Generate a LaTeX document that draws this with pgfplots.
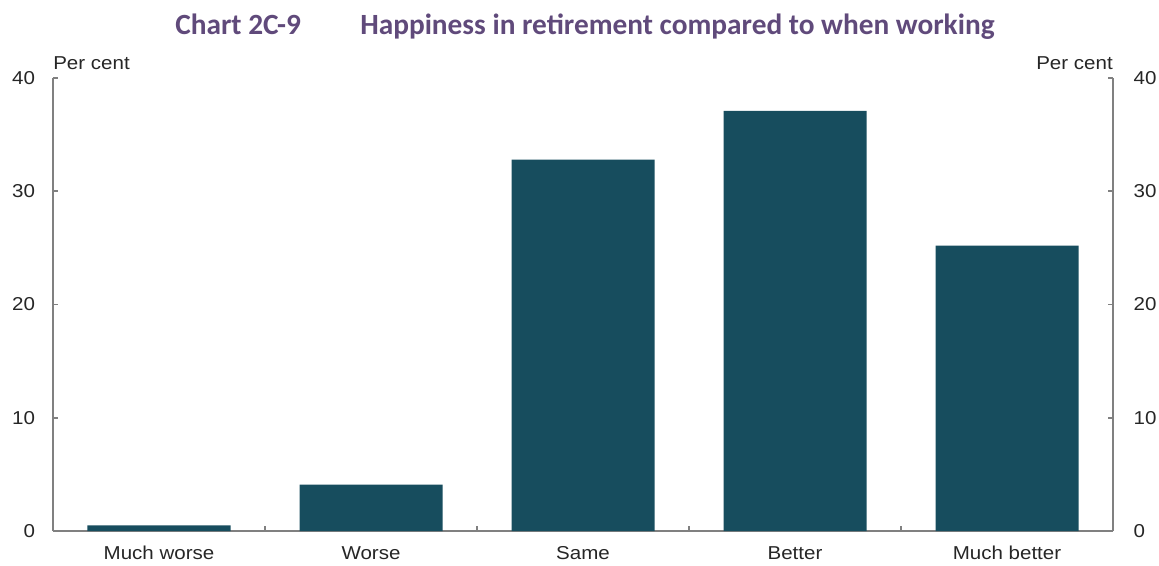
\documentclass[border=0pt]{standalone}
\usepackage{pgfplots}
\pgfplotsset{compat=1.18}
\usepackage{fontspec}
\setmainfont[FakeStretch=1.1]{Liberation Sans}
\newfontfamily\titlefont{Carlito}
\definecolor{barcol}{RGB}{23,77,94}
\definecolor{axcol}{RGB}{128,128,128}
\definecolor{titlecol}{RGB}{96,74,123}
\begin{document}
\begin{tikzpicture}
\useasboundingbox (0,0) rectangle (869.25pt,423.75pt);
\node[anchor=base west,inner sep=0pt,text=titlecol,font=\titlefont\bfseries\fontsize{22pt}{24pt}\selectfont] at (131.25pt,397.5pt) {Chart 2C-9};
\node[anchor=base west,inner sep=0pt,text=titlecol,font=\titlefont\bfseries\fontsize{22pt}{24pt}\selectfont] at (270pt,397.5pt) {Happiness in retirement compared to when working};
\begin{axis}[
  at={(39.75pt,25.5pt)}, anchor=south west,
  scale only axis, width=795pt, height=339.75pt,
  xmin=-0.5, xmax=4.5, ymin=0, ymax=40,
  axis x line*=bottom, axis y line*=left,
  axis line style={draw=axcol, line width=1.4pt},
  every tick/.style={draw=axcol, line width=1.2pt},
  tick align=inside,
  major tick length=4pt,
  xtick={0,1,2,3,4},
  xticklabels={Much worse,Worse,Same,Better,Much better},
  major x tick style={draw=none},
  minor xtick={0.5,1.5,2.5,3.5},
  minor tick length=4pt,
  ytick={0,10,20,30,40},
  ticklabel style={font=\fontsize{14pt}{16pt}\selectfont, text=black!85},
  /pgf/number format/assume math mode=true,
  xticklabel style={yshift=-8pt},
  yticklabel style={xshift=-10pt},
  clip=false,
]
\addplot[ybar, bar width=107.25pt, fill=barcol, draw=none] coordinates {
  (0,0.5) (1,4.1) (2,32.8) (3,37.1) (4,25.2)
};
\node[anchor=south west, inner sep=0pt, font=\fontsize{14pt}{16pt}\selectfont, text=black!85] at (rel axis cs:0,1) [yshift=6pt] {Per cent};
\node[anchor=south east, inner sep=0pt, font=\fontsize{14pt}{16pt}\selectfont, text=black!85] at (rel axis cs:1,1) [yshift=6pt] {Per cent};
\end{axis}
\begin{axis}[
  at={(39.75pt,25.5pt)}, anchor=south west,
  scale only axis, width=795pt, height=339.75pt,
  xmin=-0.5, xmax=4.5, ymin=0, ymax=40,
  axis x line=none, axis y line*=right,
  axis line style={draw=axcol, line width=1.4pt},
  every tick/.style={draw=axcol, line width=1.2pt},
  tick align=inside,
  major tick length=4pt,
  ytick={0,10,20,30,40},
  ticklabel style={font=\fontsize{14pt}{16pt}\selectfont, text=black!85},
  /pgf/number format/assume math mode=true,
  yticklabel style={xshift=12pt},
]
\addplot[draw=none] coordinates {(0,0)};
\end{axis}
\end{tikzpicture}
\end{document}
